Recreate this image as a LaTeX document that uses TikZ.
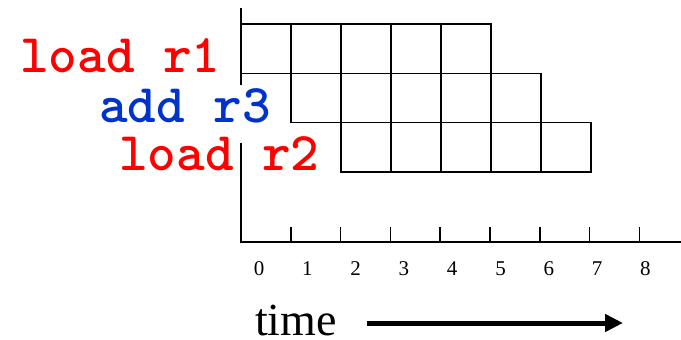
\documentclass[tikz,border=0pt]{standalone}
\usepackage{fontspec}
\setmainfont{Liberation Serif}
\usepackage{tikz}
\usetikzlibrary{arrows.meta, positioning}
\definecolor{ldred}{RGB}{255,0,0}
\definecolor{addblue}{RGB}{0,51,204}
\tikzset{
  cell/.style={
    rectangle, draw=black, line width=1.5pt,
    minimum width=50pt, minimum height=49.3pt, inner sep=0pt
  },
  instr/.style={
    font=\ttfamily\fontsize{54.5}{58}\selectfont\bfseries,
    inner sep=0pt, anchor=base west
  },
  axisline/.style={draw, line width=2pt},
  tickmark/.style={draw, line width=1.6pt},
  ticklabel/.style={font=\fontsize{21}{24}\selectfont, inner sep=0pt},
  timearrow/.style={-{Triangle[length=18pt,width=17pt]}, line width=5pt},
}

\begin{document}
\begin{tikzpicture}[x=1pt, y=-1pt]
		\useasboundingbox (0,0) rectangle (681,340);

		%% Axes (vertical axis broken behind "add r3")
		\coordinate (ytop) at (241,8);
		\coordinate (ygap1) at (241,85);
		\coordinate (ygap2) at (241,143);
		\coordinate (orig) at (241,242);
		\coordinate (xend) at (681,242);
		\draw[axisline] (ytop) -- (ygap1);
		\draw[axisline] (ygap2) -- (orig) -- (xend);

		%% Ticks and cycle numbers
		\foreach \i in {1,...,8}
		\draw[tickmark] ([xshift=49.8*\i pt]orig) -- ++(0,-15);
		\foreach \i in {0,...,8}
		\node[ticklabel] (n\i) at (259+48.3*\i,269) {\i};

		%% Instructions
		\node[instr, text=ldred]   (ld1)  at (20,72)  {load r1};
		\node[instr, text=addblue] (add3) at (99,122) {add r3};
		\node[instr, text=ldred]   (ld2)  at (119,170) {load r2};

		%% Pipeline stages
		\foreach \r in {0,1,2}
		\foreach \s in {0,...,4}
		\node[cell] (c\r\s) at (266+50*\r+50*\s, 48.65+49.3*\r) {};

		%% Time arrow
		\node[font=\fontsize{46}{50}\selectfont, inner sep=0pt, anchor=base west]
		(time) at (255,335) {time};
		\coordinate (tstart) at (367,323);
		\coordinate (tend)   at (623,323);
		\draw[timearrow] (tstart) -- (tend);

	\end{tikzpicture}
\end{document}
